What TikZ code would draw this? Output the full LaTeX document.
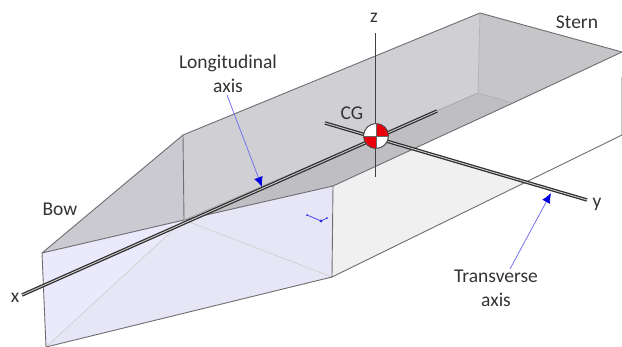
\documentclass[tikz,border=0pt]{standalone}
\usepackage{fontspec}
\setmainfont{Carlito}
\usetikzlibrary{arrows.meta}
\definecolor{wallc}{HTML}{D0D0D4}
\definecolor{bowc}{HTML}{CACAD0}
\definecolor{floorc}{HTML}{BFBFC3}
\definecolor{sternc}{HTML}{C6C6C9}
\definecolor{facea}{HTML}{EAEAFC}
\definecolor{faceb}{HTML}{E6E6F6}
\definecolor{sidec}{HTML}{F0F0F0}
\definecolor{edgec}{HTML}{6E6E72}
\definecolor{txtc}{HTML}{333333}
\definecolor{arrc}{HTML}{0000E0}
\definecolor{cgred}{HTML}{E8000A}
\tikzset{
  edge/.style={draw=edgec,line width=0.9pt,line join=round},
  faint/.style={draw=black!18,line width=0.7pt},
  axisouter/.style={draw=black!82,line width=3.4pt},
  axisinner/.style={draw=white!80!black,line width=0.9pt},
  lbl/.style={text=txtc,font=\fontsize{19.5}{24}\selectfont,align=center,inner sep=0pt},
  callout/.style={draw=arrc!55!white,line width=0.8pt,-{Latex[length=10pt,width=9pt,color=arrc]}},
}
\begin{document}
\begin{tikzpicture}[x=1pt,y=-1pt]
\useasboundingbox (0,0) rectangle (622,346);
\fill[white] (0,0) rectangle (622,346);
% hull points
\coordinate (bowtop) at (42,253);
\coordinate (bowbot) at (46,347);
\coordinate (mid) at (184,220);
\coordinate (ridge) at (183,135);
\coordinate (sterntop) at (480,13);
\coordinate (sternright) at (622,52);
\coordinate (sterninner) at (478,93);
\coordinate (deckb) at (513,103);
\coordinate (knuckle) at (333,186);
\coordinate (keel) at (332,277);
\coordinate (rightlow) at (622,135);
\coordinate (rightup) at (622,77);
% faces
\fill[facea] (bowtop) -- (mid) -- (bowbot) -- cycle;
\fill[faceb] (mid) -- (knuckle) -- (keel) -- (bowbot) -- cycle;
\fill[sidec] (knuckle) -- (413,149) -- (523,183) -- (keel) -- cycle;
\fill[bowc] (bowtop) -- (ridge) -- (mid) -- cycle;
\fill[wallc] (ridge) -- (sterntop) -- (sterninner) -- (mid) -- cycle;
\fill[floorc] (mid) -- (sterninner) -- (deckb) -- (knuckle) -- cycle;
\fill[sternc] (sterntop) -- (sternright) -- (deckb) -- (sterninner) -- cycle;
% edges
\draw[faint] (mid) -- (keel);
\draw[faint] (mid) -- (bowbot);
\draw[edge] (bowbot) -- (bowtop) -- (ridge) -- (sterntop) -- (sternright) -- (deckb) -- (knuckle) -- (mid) -- (bowtop);
\draw[edge] (ridge) -- (mid);
\draw[draw=black!30,line width=0.7pt] (sterntop) -- (sterninner) -- (deckb);
\draw[draw=black!35,line width=0.7pt] (sterninner) -- (mid);
\draw[edge] (knuckle) -- (keel) -- (rightlow) -- (rightup);
\draw[edge] (bowbot) -- (keel);
% small triad
\draw[arrc!70!white,line width=0.8pt] (307,215) -- (321,221) -- (327,218);
\fill[arrc!80!white] (321,221) circle (1.7);
\fill[arrc!80!white] (307,215) circle (1);
\fill[arrc!80!white] (327,218) circle (1);
% axes
\coordinate (xa) at (22,295);
\coordinate (xb) at (437,111);
\coordinate (ya) at (325,123);
\coordinate (yb) at (587,200);
\coordinate (za) at (375,33);
\coordinate (zb) at (375,177);
\draw[axisouter] (xa) -- (xb);
\draw[axisinner] (xa) -- (xb);
\draw[axisouter] (ya) -- (yb);
\draw[axisinner] (ya) -- (yb);
\draw[draw=black!75,line width=0.8pt] (za) -- (zb);
% CG symbol
\node[circle,minimum size=25pt,inner sep=0pt,fill=white,draw=black!70,line width=0.7pt] (cg) at (376,136) {};
\begin{scope}
\clip (376,136) circle (12.5);
\fill[cgred] (376,136) rectangle (390,122);
\fill[cgred] (376,136) rectangle (362,150);
\end{scope}
\draw[draw=black!70,line width=0.7pt] (376,136) circle (12.5);
\draw[draw=black!60,line width=0.4pt] (cg.north) -- (cg.south) (cg.west) -- (cg.east);
% labels
\node[lbl] (lz) at (374,18) {z};
\node[lbl] (lstern) at (577,22) {Stern};
\node[lbl] (lcg) at (352,113) {CG};
\node[lbl] (llong) at (228,74) {Longitudinal\\axis};
\node[lbl] (lbow) at (60,209) {Bow};
\node[lbl] (lx) at (15,298) {x};
\node[lbl] (ly) at (597,204) {y};
\node[lbl] (ltrans) at (496,288) {Transverse\\axis};
\coordinate (ta) at (262,187);
\coordinate (tb) at (551,193);
\coordinate (sa) at (227,95);
\coordinate (sb) at (510,269);
\draw[callout] (sa) -- (ta);
\draw[callout] (sb) -- (tb);
\end{tikzpicture}
\end{document}
